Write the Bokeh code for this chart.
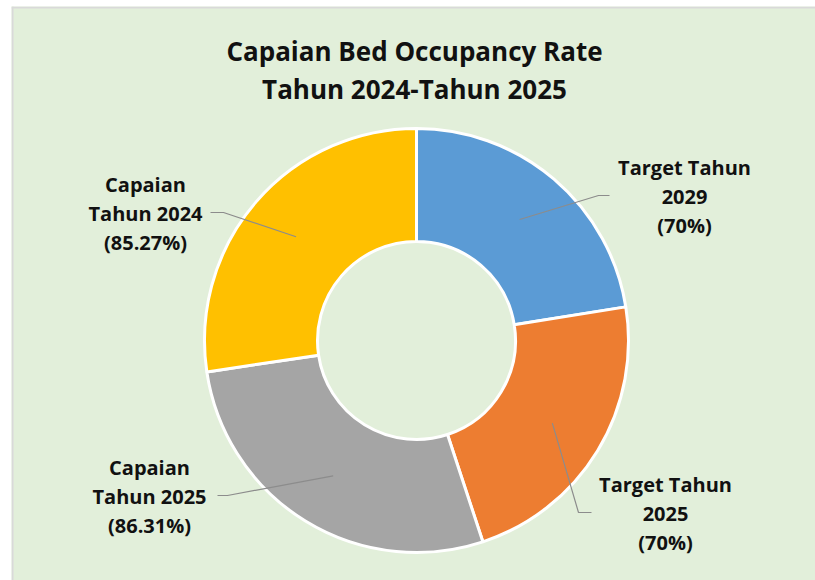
import math
from bokeh.plotting import figure
from bokeh.models import Range1d, ColumnDataSource, Span
from bokeh.core.properties import value
from bokeh.embed import file_html
from bokeh.resources import INLINE

# ---- data ----
categories = ["Target Tahun 2029", "Target Tahun 2025", "Capaian Tahun 2025", "Capaian Tahun 2024"]
values = [70.0, 70.0, 86.31, 85.27]
value_labels = ["(70%)", "(70%)", "(86.31%)", "(85.27%)"]
label_lines = [
    ["Target Tahun", "2029"],
    ["Target Tahun", "2025"],
    ["Capaian", "Tahun 2025"],
    ["Capaian", "Tahun 2024"],
]
colors = ["#5B9BD5", "#ED7D31", "#A5A5A5", "#FFC000"]
title_lines = ["Capaian Bed Occupancy Rate", "Tahun 2024-Tahun 2025"]

# ---- layout (image pixel coordinates, y measured downward from top) ----
W, H = 815, 580
LEFT_PAD, TOP_PAD = 11, 6
CX, CY = 416, 340
R_OUT, R_IN = 212, 99
R_LEADER = 159
label_pos = [(684, 196), (665, 513), (149, 496), (145, 213)]
leader_elbow = [(598, 195), (578, 512), (227, 495), (223, 212)]
leader_end_dx = [11, 13, -10, -13]
LINE_GAP = 29
BG = "#E2EFDA"


def fy(y_img):
    return H - y_img


p = figure(width=W, height=H, output_backend="svg", toolbar_location=None,
           x_axis_type=None, y_axis_type=None, min_border=0,
           min_border_left=LEFT_PAD, min_border_top=TOP_PAD,
           x_range=Range1d(LEFT_PAD, W), y_range=Range1d(0, H - TOP_PAD))
p.background_fill_color = BG
p.border_fill_color = "white"
p.outline_line_color = None
p.grid.visible = False
p.add_layout(Span(location=LEFT_PAD + 1, dimension="height", line_color="#D9D9D9", line_width=2))
p.add_layout(Span(location=fy(TOP_PAD + 1), dimension="width", line_color="#D9D9D9", line_width=2))

total = sum(values)
starts, ends, mids = [], [], []
acc = 0.0
for v in values:
    a0 = math.pi / 2 - acc / total * 2 * math.pi
    acc += v
    a1 = math.pi / 2 - acc / total * 2 * math.pi
    starts.append(a0)
    ends.append(a1)
    mids.append((a0 + a1) / 2)

src = ColumnDataSource(dict(start=starts, end=ends, color=colors, cat=categories))
p.annular_wedge(x=CX, y=fy(CY), inner_radius=R_IN, outer_radius=R_OUT,
                start_angle="start", end_angle="end", direction="clock",
                fill_color="color", line_color="white", line_width=3, source=src)

# leader lines
xs, ys = [], []
for i, m in enumerate(mids):
    px = CX + R_LEADER * math.cos(m)
    py = fy(CY) + R_LEADER * math.sin(m)
    ex, ey = leader_elbow[i]
    xs.append([px, ex, ex + leader_end_dx[i]])
    ys.append([py, fy(ey), fy(ey)])
p.multi_line(xs=xs, ys=ys, line_color="#8C8C8C", line_width=1.2)

# data labels
tx, ty, tt = [], [], []
for i in range(len(categories)):
    lx, ly = label_pos[i]
    lines = label_lines[i] + [value_labels[i]]
    for k, s in enumerate(lines):
        tx.append(lx)
        ty.append(fy(ly + (k - 1) * LINE_GAP))
        tt.append(s)
p.text(x=tx, y=ty, text=tt, text_font=value("Open Sans"), text_font_style="bold",
       text_font_size="20px", text_align="center", text_baseline="middle",
       text_color="#111111")

# title
p.text(x=[414, 414], y=[fy(50), fy(88)], text=title_lines,
       text_font=value("Open Sans"), text_font_style="bold", text_font_size="26px",
       text_align="center", text_baseline="middle", text_color="#111111")

open("out.html", "w").write(file_html(p, INLINE))
